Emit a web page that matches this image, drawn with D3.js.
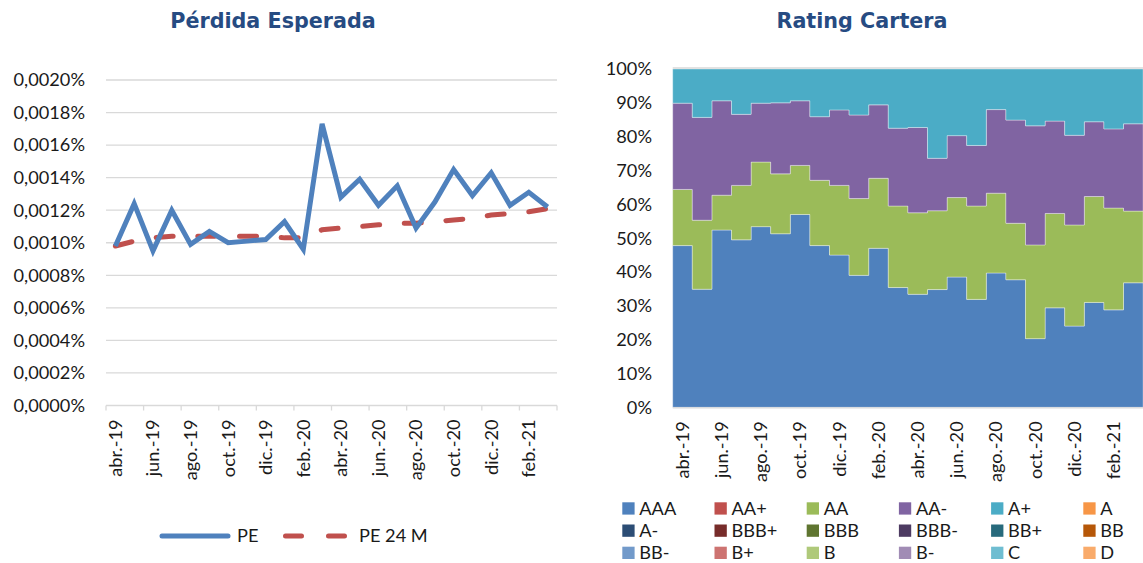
<!DOCTYPE html>
<html><head><meta charset="utf-8">
<script src="https://cdn.jsdelivr.net/npm/d3@7"></script>
<style>body{margin:0;background:#fff;overflow:hidden} svg{display:block}</style>
</head><body><svg id="c" width="1143" height="563"></svg>
<script>
// ---------- data ----------
const months = ["abr.-19","may.-19","jun.-19","jul.-19","ago.-19","sep.-19","oct.-19","nov.-19","dic.-19","ene.-20","feb.-20","mar.-20","abr.-20","may.-20","jun.-20","jul.-20","ago.-20","sep.-20","oct.-20","nov.-20","dic.-20","ene.-21","feb.-21","mar.-21"];
const monthLabels = ["abr.-19","jun.-19","ago.-19","oct.-19","dic.-19","feb.-20","abr.-20","jun.-20","ago.-20","oct.-20","dic.-20","feb.-21"];
// values in percent units (0.00124 means 0,00124%)
const pe   = [0.00098,0.00124,0.00095,0.00120,0.00099,0.00107,0.00100,0.00101,0.00102,0.00113,0.00096,0.00173,0.00128,0.00139,0.00123,0.00135,0.00109,0.00125,0.00145,0.00129,0.00143,0.00123,0.00131,0.00122];
const pe24 = [0.00098,0.00101,0.00103,0.00104,0.00104,0.00104,0.00104,0.00104,0.00104,0.00103,0.00103,0.00108,0.00109,0.00110,0.00111,0.00112,0.00112,0.00113,0.00114,0.00115,0.00117,0.00118,0.00119,0.00121];
const peTicks = [0,0.0002,0.0004,0.0006,0.0008,0.0010,0.0012,0.0014,0.0016,0.0018,0.0020];
const ratingTicks = [0,10,20,30,40,50,60,70,80,90,100];
const ratings = ["AAA","AA+","AA","AA-","A+","A","A-","BBB+","BBB","BBB-","BB+","BB","BB-","B+","B","B-","C","D"];
const ratingColors = ["#4F81BD","#C0504D","#9BBB59","#8064A2","#4BACC6","#F79646","#2C4D75","#772C2A","#5F7530","#4D3B62","#276A7C","#B65708","#729ACA","#CD7371","#AFC97A","#A18CB5","#6FBDD1","#F9AB6B"];
const aaa     = [47.8,34.9,52.4,49.5,53.4,51.3,57.0,47.8,45.0,39.0,47.0,35.4,33.4,34.8,38.5,31.9,39.7,37.7,20.3,29.4,24.0,31.0,28.8,36.8];
const aa      = [16.6,20.4,10.3,16.1,19.1,17.7,14.5,19.3,20.6,22.7,20.7,24.1,24.1,23.3,23.5,27.6,23.6,16.7,27.7,27.9,29.9,31.3,30.1,21.2];
const aaMinus = [25.5,30.4,27.9,21.0,17.4,21.0,19.1,18.8,22.3,24.7,21.7,23.0,25.2,15.5,18.3,17.9,24.7,30.5,35.2,27.3,26.5,22.1,23.4,25.8];
const aPlus   = [10.1,14.3, 9.4,13.4,10.1,10.0, 9.4,14.1,12.1,13.6,10.6,17.5,17.3,26.4,19.7,22.6,12.0,15.1,16.8,15.4,19.6,15.6,17.7,16.2];

// ---------- setup ----------
const svg = d3.select("#c");
const FONT = "Lato, 'Liberation Sans', sans-serif";
const TFONT = "'DejaVu Sans', Verdana, sans-serif";
const GRID = "#d9d9d9";
const TXT = "#1a1a1a";
const FS = 18.2;

// ---------- left chart ----------
const L = {x0:106, x1:557, y0:80, y1:405.5};
const xL = d3.scaleBand().domain(months).range([L.x0, L.x1]).padding(0);
const yL = d3.scaleLinear().domain([0,0.0020]).range([L.y1, L.y0]);
const fmtL = v => d3.format(".4f")(v).replace(".", ",") + "%";

svg.append("text").attr("x",273).attr("y",28).attr("text-anchor","middle")
  .attr("font-family",TFONT).attr("font-weight","bold").attr("font-size",20.7)
  .attr("fill","#264B82").text("Pérdida Esperada");

const gL = svg.append("g");
gL.selectAll("line.grid").data(peTicks.filter(d=>d>0)).join("line")
  .attr("x1",L.x0).attr("x2",L.x1).attr("y1",d=>yL(d)).attr("y2",d=>yL(d))
  .attr("stroke",GRID).attr("stroke-width",1.3);
gL.selectAll("text.yl").data(peTicks).join("text")
  .attr("x",85).attr("y",d=>yL(d)).attr("dy","0.35em").attr("text-anchor","end")
  .attr("font-family",FONT).attr("font-size",FS).attr("fill",TXT).text(fmtL);
// x axis
gL.append("line").attr("x1",L.x0).attr("x2",L.x1).attr("y1",L.y1).attr("y2",L.y1)
  .attr("stroke",GRID).attr("stroke-width",1.3);
const tickIdx = months.map((m,i)=>i).filter(i=>i%2===0);
gL.selectAll("line.tk").data(tickIdx.concat([months.length])).join("line")
  .attr("x1",i=> i<months.length ? xL(months[i]) : L.x1)
  .attr("x2",i=> i<months.length ? xL(months[i]) : L.x1)
  .attr("y1",L.y1).attr("y2",L.y1+5).attr("stroke",GRID).attr("stroke-width",1.3);
gL.selectAll("text.xl").data(monthLabels).join("text")
  .attr("transform",d=>`translate(${xL(d)+xL.bandwidth()/2},${L.y1+14}) rotate(-90)`)
  .attr("dy","0.35em").attr("text-anchor","end")
  .attr("font-family",FONT).attr("font-size",FS).attr("fill",TXT).text(d=>d);

const lineL = d3.line().x((d,i)=>xL(months[i])+xL.bandwidth()/2).y(d=>yL(d));
gL.append("path").datum(pe24).attr("d",lineL).attr("fill","none")
  .attr("stroke","#C0504D").attr("stroke-width",5).attr("stroke-linecap","round")
  .attr("stroke-dasharray","17,24.7");
gL.append("path").datum(pe).attr("d",lineL).attr("fill","none")
  .attr("stroke","#4F81BD").attr("stroke-width",5).attr("stroke-linejoin","miter")
  .attr("stroke-linecap","butt");

// left legend
svg.append("line").attr("x1",162).attr("x2",228).attr("y1",536).attr("y2",536)
  .attr("stroke","#4F81BD").attr("stroke-width",5).attr("stroke-linecap","round");
svg.append("text").attr("x",237).attr("y",536).attr("dy","0.35em")
  .attr("font-family",FONT).attr("font-size",FS).attr("fill",TXT).text("PE");
svg.append("line").attr("x1",285.5).attr("x2",344.5).attr("y1",536).attr("y2",536)
  .attr("stroke","#C0504D").attr("stroke-width",5).attr("stroke-linecap","round")
  .attr("stroke-dasharray","16,27");
svg.append("text").attr("x",359).attr("y",536).attr("dy","0.35em")
  .attr("font-family",FONT).attr("font-size",FS).attr("fill",TXT).text("PE 24 M");

// ---------- right chart ----------
const R = {x0:672.7, x1:672.7+24*19.6, y0:69, y1:407.3};
const xR = d3.scaleBand().domain(months).range([R.x0, R.x1]).padding(0);
const yR = d3.scaleLinear().domain([0,100]).range([R.y1, R.y0]);

svg.append("text").attr("x",862).attr("y",28).attr("text-anchor","middle")
  .attr("font-family",TFONT).attr("font-weight","bold").attr("font-size",20.7)
  .attr("fill","#264B82").text("Rating Cartera");

const gR = svg.append("g");
gR.selectAll("text.yl").data(ratingTicks).join("text")
  .attr("x",652).attr("y",d=>yR(d)).attr("dy","0.35em").attr("text-anchor","end")
  .attr("font-family",FONT).attr("font-size",FS).attr("fill",TXT).text(d=>d+"%");

const rows = months.map((m,i)=>({m, "AAA":aaa[i], "AA":aa[i], "AA-":aaMinus[i], "A+":aPlus[i]}));
const keys = ["AAA","AA","AA-","A+"];
const stacked = d3.stack().keys(keys)(rows);
const areaR = d3.area().x(p=>p.x).y0(p=>yR(p.lo)).y1(p=>yR(p.hi));
stacked.forEach(s=>{
  const pts = s.flatMap(d=>[
    {x:xR(d.data.m), lo:d[0], hi:d[1]},
    {x:xR(d.data.m)+xR.bandwidth(), lo:d[0], hi:d[1]}
  ]);
  gR.append("path").datum(pts).attr("d",areaR)
    .attr("fill",ratingColors[ratings.indexOf(s.key)])
    .attr("stroke","rgba(255,255,255,0.35)").attr("stroke-width",1);
});
gR.append("line").attr("x1",R.x0).attr("x2",R.x1).attr("y1",R.y1+0.5).attr("y2",R.y1+0.5)
  .attr("stroke",GRID).attr("stroke-width",1.3);
gR.append("line").attr("x1",R.x0).attr("x2",R.x1).attr("y1",R.y0-1).attr("y2",R.y0-1)
  .attr("stroke",GRID).attr("stroke-width",1.3);
gR.selectAll("text.xl").data(monthLabels).join("text")
  .attr("transform",d=>`translate(${xR(d)+xR.bandwidth()/2},${R.y1+14}) rotate(-90)`)
  .attr("dy","0.35em").attr("text-anchor","end")
  .attr("font-family",FONT).attr("font-size",FS).attr("fill",TXT).text(d=>d);

// right legend
const lg = svg.append("g");
const items = lg.selectAll("g").data(ratings).join("g")
  .attr("transform",(d,i)=>`translate(${622.3 + (i%6)*92.2},${508.5 + Math.floor(i/6)*22.2})`);
items.append("rect").attr("x",0).attr("y",-6.2).attr("width",12.3).attr("height",12.3)
  .attr("fill",(d,i)=>ratingColors[i]);
items.append("text").attr("x",17).attr("y",0).attr("dy","0.35em")
  .attr("font-family",FONT).attr("font-size",FS).attr("fill",TXT).text(d=>d);
</script>
</body></html>
